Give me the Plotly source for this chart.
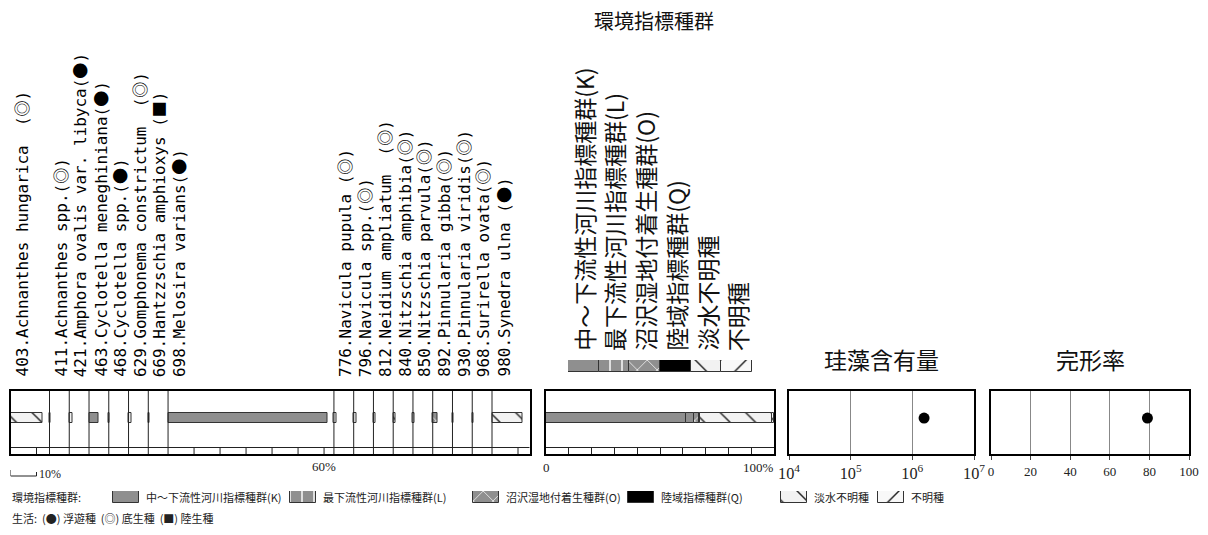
import plotly.graph_objects as go

W, H = 1208, 535
OFFSET = 8  # the page body margin shifts the figure by 8px

# ---- data -------------------------------------------------------------
species = [
    "403.Achnanthes hungarica  (◎)",
    "411.Achnanthes spp.(◎)",
    "421.Amphora ovalis var. libyca(●)",
    "463.Cyclotella meneghiniana(●)",
    "468.Cyclotella spp.(●)",
    "629.Gomphonema constrictum  (◎)",
    "669.Hantzzschia amphioxys (■)",
    "698.Melosira varians(●)",
    "776.Navicula pupula (◎)",
    "796.Navicula spp.(◎)",
    "812.Neidium ampliatum  (◎)",
    "840.Nitzschia amphibia(◎)",
    "850.Nitzschia parvula(◎)",
    "892.Pinnularia gibba(◎)",
    "930.Pinnularia viridis(◎)",
    "968.Surirella ovata(◎)",
    "980.Synedra ulna (●)",
]
percent = [12.4, 0.4, 1.1, 3.7, 0.4, 1.0, 0.6, 61.2, 1.0, 1.0,
           0.9, 1.0, 0.5, 1.9, 0.5, 0.5, 11.9]
group = ["U", "X", "U", "L", "X", "U", "Q", "K", "U", "U",
         "U", "U", "U", "O", "U", "U", "U"]

group_codes = ["K", "L", "O", "Q", "U", "X"]
group_names = ["中〜下流性河川指標種群(K)", "最下流性河川指標種群(L)",
               "沼沢湿地付着生種群(O)", "陸域指標種群(Q)", "淡水不明種", "不明種"]

diatom_content = 1.55e6   # 珪藻含有量
complete_rate = 79        # 完形率 (%)

content_range = [4, 7]    # log10
rate_ticks = [0, 20, 40, 60, 80, 100]

# ---- styles -----------------------------------------------------------
GRAY = "#8f8f8f"
style = {
    "K": dict(color=GRAY),
    "L": dict(color=GRAY, pattern=dict(shape="|", fgcolor="white", bgcolor=GRAY,
                                       size=12, solidity=0.12, fillmode="replace")),
    "O": dict(color=GRAY, pattern=dict(shape="x", fgcolor="white", bgcolor=GRAY,
                                       size=14, solidity=0.1, fillmode="replace")),
    "Q": dict(color="#000000"),
    "U": dict(color="#f2f2f2", pattern=dict(shape="\\", fgcolor="#222", bgcolor="#f2f2f2",
                                            size=18, solidity=0.08, fillmode="replace")),
    "X": dict(color="#f8f8f8", pattern=dict(shape="/", fgcolor="#222", bgcolor="#f8f8f8",
                                            size=18, solidity=0.08, fillmode="replace")),
}
OUTLINE = dict(color="#333", width=1)
JP = "Noto Sans CJK JP"
SERIF = "Liberation Serif"
MONO = "DejaVu Sans Mono"


def py(p):
    return 1 - (p - OFFSET) / H


def px(p):
    return (p - OFFSET) / W


def label_html(name):
    # life-form mark drawn as a full-width CJK glyph, like the original
    for mark in ("◎", "●", "■"):
        name = name.replace(
            mark, f"<span style=\"font-family:'{JP}';font-size:16px\">{mark}</span>")
    return name


# ---- column geometry (left panel) ------------------------------------
MIN_W, PAD = 5.0, 2.6
n = len(species)
col_w = [max(p, MIN_W) + PAD for p in percent]
col_left = [sum(col_w[:i]) for i in range(n)]
total_w = sum(col_w)

BAR_Y, BAR_W, STRIP = 0.571, 0.16, 0.103

fig = go.Figure()

# species bars
for g in group_codes:
    idx = [i for i in range(n) if group[i] == g]
    if not idx:
        continue
    fig.add_trace(go.Bar(
        x=[percent[i] for i in idx], base=[col_left[i] for i in idx],
        y=[BAR_Y] * len(idx), width=BAR_W, orientation="h",
        marker=dict(line=OUTLINE, **style[g]),
        xaxis="x", yaxis="y", showlegend=False, hoverinfo="skip"))

# column borders and 10% ticks
gx, gy = [], []
for left, w in zip(col_left, col_w):
    gx += [left, left, None]
    gy += [0, 1, None]
    k = 10
    while k < w - 0.5:
        gx += [left + k, left + k, None]
        gy += [0, STRIP, None]
        k += 10
gx += [0, total_w, None]
gy += [STRIP, STRIP, None]
fig.add_trace(go.Scatter(x=gx, y=gy, mode="lines", line=dict(color="#222", width=1),
                         xaxis="x", yaxis="y", showlegend=False, hoverinfo="skip"))

# composite bar
totals = [sum(p for p, gg in zip(percent, group) if gg == g) for g in group_codes]
base = 0
for g, t in zip(group_codes, totals):
    fig.add_trace(go.Bar(
        x=[t], base=[base], y=[BAR_Y], width=BAR_W, orientation="h",
        marker=dict(line=OUTLINE, **style[g]),
        xaxis="x2", yaxis="y2", showlegend=False, hoverinfo="skip"))
    base += t
fig.add_trace(go.Scatter(x=[0, 100], y=[STRIP, STRIP], mode="lines",
                         line=dict(color="#222", width=1),
                         xaxis="x2", yaxis="y2", showlegend=False, hoverinfo="skip"))

# header swatches
for i, g in enumerate(group_codes):
    fig.add_trace(go.Bar(
        x=[1], base=[i], y=[0.5], width=1, orientation="h",
        marker=dict(line=OUTLINE, **style[g]),
        xaxis="x5", yaxis="y5", showlegend=False, hoverinfo="skip"))

# points
fig.add_trace(go.Scatter(x=[diatom_content], y=[BAR_Y], mode="markers",
                         marker=dict(color="black", size=11),
                         xaxis="x3", yaxis="y3", showlegend=False))
fig.add_trace(go.Scatter(x=[complete_rate], y=[BAR_Y], mode="markers",
                         marker=dict(color="black", size=11),
                         xaxis="x4", yaxis="y4", showlegend=False))

# legend swatches (bottom), x in screen pixels
legend_x = [113, 290, 473, 628, 781, 878]
SW = 26
for i, g in enumerate(group_codes):
    fig.add_trace(go.Bar(
        x=[SW], base=[legend_x[i]], y=[0.5], width=1, orientation="h",
        marker=dict(line=OUTLINE, **style[g]),
        xaxis="x6", yaxis="y6", showlegend=False, hoverinfo="skip"))

# ---- axes -------------------------------------------------------------
panel_y = [py(454), py(391)]
box = dict(showline=True, mirror=True, linecolor="black", linewidth=2,
           zeroline=False, showgrid=False, fixedrange=True, automargin=False)
ybox = dict(box, range=[0, 1], domain=panel_y, showticklabels=False, ticks="")
tickfont = dict(family=SERIF, size=13, color="#222")
hidden = dict(visible=False, fixedrange=True, automargin=False)

layout_axes = dict(
    xaxis=dict(box, domain=[px(10.5), px(529.7)], range=[0, total_w],
               showticklabels=False, ticks=""),
    yaxis=dict(ybox, anchor="x"),
    xaxis2=dict(box, domain=[px(546), px(774.3)], range=[0, 100], anchor="y2",
                showticklabels=False, ticks="inside", ticklen=6, tickcolor="#222",
                tick0=0, dtick=10),
    yaxis2=dict(ybox, anchor="x2"),
    xaxis3=dict(box, domain=[px(789), px(974)], type="log", range=content_range,
                anchor="y3", dtick=1, exponentformat="power", showexponent="all",
                showgrid=True, gridcolor="#888", gridwidth=1,
                ticks="outside", ticklen=4, tickcolor="#444", tickfont=tickfont),
    yaxis3=dict(ybox, anchor="x3"),
    xaxis4=dict(box, domain=[px(991), px(1189)], range=[0, 100], anchor="y4",
                tickvals=rate_ticks, showgrid=True, gridcolor="#888", gridwidth=1,
                ticks="outside", ticklen=4, tickcolor="#444", tickfont=tickfont),
    yaxis4=dict(ybox, anchor="x4"),
    xaxis5=dict(hidden, domain=[px(568), px(752)], range=[0, len(group_codes)], anchor="y5"),
    yaxis5=dict(hidden, domain=[py(372), py(360)], range=[0, 1], anchor="x5"),
    xaxis6=dict(hidden, domain=[0, 1], range=[OFFSET, W + OFFSET], anchor="y6"),
    yaxis6=dict(hidden, domain=[py(503), py(491)], range=[0, 1], anchor="x6"),
)

# ---- text -------------------------------------------------------------
def note(text, x, y, xref="paper", xanchor="center", yanchor="middle", **kw):
    return dict(text=text, x=x, y=y, xref=xref, yref="paper", xanchor=xanchor,
                yanchor=yanchor, showarrow=False, **kw)


ann = []
for name, left in zip(species, col_left):
    ann.append(note(label_html(name), left, py(379), xref="x", xanchor="left",
                    yanchor="bottom", xshift=-4, textangle=-90,
                    font=dict(family=MONO, size=16, color="black")))
for i, name in enumerate(group_names):
    ann.append(note(name, i + 0.5, py(353), xref="x5", yanchor="bottom", textangle=-90,
                    font=dict(family=JP, size=23, color="#111")))

ann += [
    note("環境指標種群", px(654), py(21), font=dict(family=JP, size=20, color="#111")),
    note("珪藻含有量", 0.5, py(359), xref="x3 domain",
         font=dict(family=JP, size=23, color="#111")),
    note("完形率", 0.5, py(359), xref="x4 domain",
         font=dict(family=JP, size=23, color="#111")),
    note("0", 0, py(467), xref="x2", font=tickfont),
    note("100%", 100, py(467), xref="x2", xanchor="right", xshift=2, font=tickfont),
    note("60%", col_left[percent.index(max(percent))] + 60, py(466), xref="x",
         font=tickfont),
    note("10%", 10, py(474), xref="x", xanchor="left",
         font=dict(family=SERIF, size=12, color="#222")),
    note("環境指標種群:", px(10), py(497), xanchor="left",
         font=dict(family=JP, size=11, color="#222")),
    note("生活:  (●) 浮遊種  (◎) 底生種  (■) 陸生種", px(10), py(518), xanchor="left",
         font=dict(family=JP, size=11, color="#222")),
]
for i, name in enumerate(group_names):
    ann.append(note(name, legend_x[i] + SW + 5, py(497), xref="x6", xanchor="left",
                    font=dict(family=JP, size=11, color="#222")))

shapes = [
    dict(type="path", xref="x", yref="paper",
         path=f"M 0,{py(470)} L 0,{py(476)} L 10,{py(476)} L 10,{py(472)}",
         line=dict(color="#222", width=1)),
]

fig.update_layout(
    width=W, height=H,
    margin=dict(l=0, r=0, t=0, b=0, pad=0, autoexpand=False),
    paper_bgcolor="white", plot_bgcolor="white",
    barmode="overlay", bargap=0, showlegend=False,
    annotations=ann, shapes=shapes, **layout_axes,
)

fig.write_html("out.html")
